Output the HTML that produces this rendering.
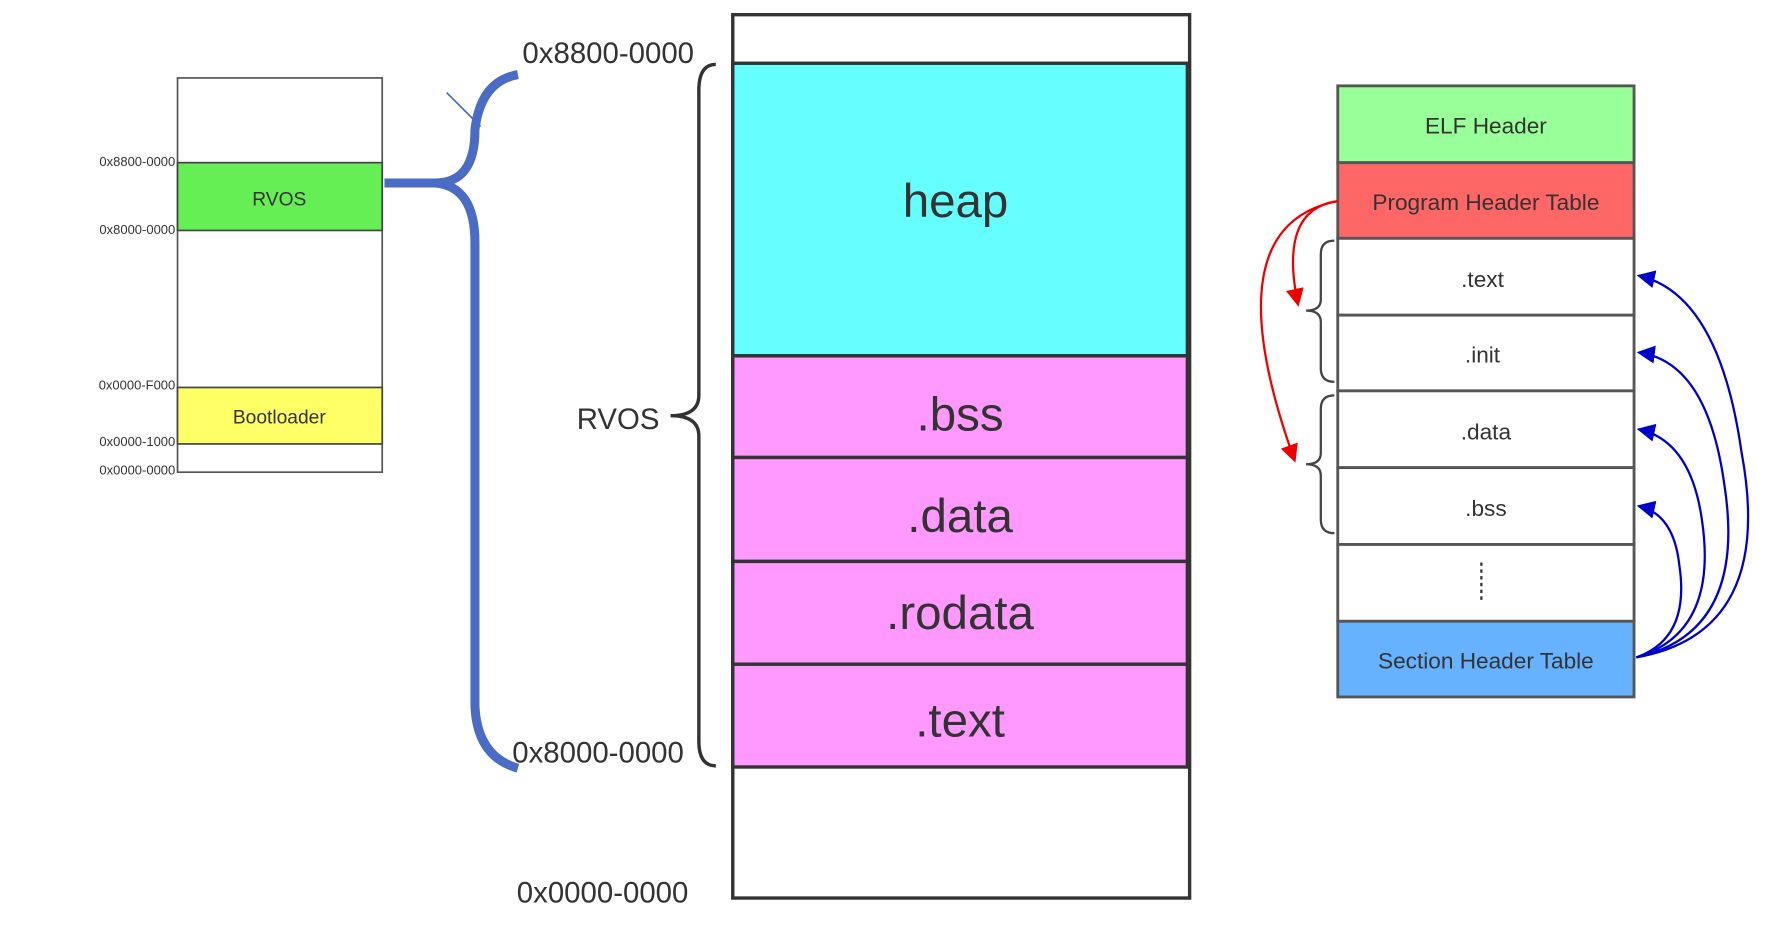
<!DOCTYPE html>
<html><head><meta charset="utf-8"><style>
html,body{margin:0;padding:0;background:#fff;}
svg{display:block;}
text{font-family:"Liberation Sans","DejaVu Sans",sans-serif;fill:#333;}
</style></head><body>
<svg width="1772" height="950" viewBox="0 0 1567 841" preserveAspectRatio="none" xmlns="http://www.w3.org/2000/svg">
<defs>
<marker id="ar" viewBox="0 0 10 10" refX="9" refY="5" markerWidth="8" markerHeight="8" orient="auto-start-reverse"><path d="M0,0 L10,5 L0,10 z" fill="#e00"/></marker>
<marker id="ab" viewBox="0 0 10 10" refX="9" refY="5" markerWidth="8" markerHeight="8" orient="auto-start-reverse"><path d="M0,0 L10,5 L0,10 z" fill="#00c"/></marker>
</defs>
<rect x="157" y="69" width="181" height="349" fill="#fff" stroke="#555" stroke-width="1.5"/>
<rect x="157" y="144" width="181" height="60" fill="#66ee55" stroke="#444" stroke-width="1.5"/>
<rect x="157" y="343" width="181" height="50" fill="#ffff66" stroke="#444" stroke-width="1.5"/>
<text x="247" y="182" font-size="17" text-anchor="middle">RVOS</text>
<text x="247" y="375" font-size="17" text-anchor="middle">Bootloader</text>
<g font-size="11.5" text-anchor="end">
<text x="155" y="147">0x8800-0000</text>
<text x="155" y="207">0x8000-0000</text>
<text x="155" y="345">0x0000-F000</text>
<text x="155" y="395">0x0000-1000</text>
<text x="155" y="420">0x0000-0000</text>
</g>
<path d="M340,162 L385,162 Q420,162 420,115 Q425,72 458,66" fill="none" stroke="#4a6cc4" stroke-width="8"/>
<path d="M385,162 Q420,165 420,215 L420,625 Q422,670 458,680" fill="none" stroke="#4a6cc4" stroke-width="8"/>
<line x1="395" y1="82" x2="425" y2="112" stroke="#4a6cc4" stroke-width="1.5"/>
<rect x="648" y="13" width="404" height="782" fill="#fff" stroke="#333" stroke-width="3"/>
<rect x="648" y="56" width="402" height="259" fill="#66ffff" stroke="#333" stroke-width="3"/>
<rect x="648" y="315" width="402" height="90" fill="#ff99ff" stroke="#333" stroke-width="3"/>
<rect x="648" y="405" width="402" height="92" fill="#ff99ff" stroke="#333" stroke-width="3"/>
<rect x="648" y="497" width="402" height="91" fill="#ff99ff" stroke="#333" stroke-width="3"/>
<rect x="648" y="588" width="402" height="91" fill="#ff99ff" stroke="#333" stroke-width="3"/>
<g font-size="42" text-anchor="middle">
<text x="845" y="192">heap</text>
<text x="849" y="381">.bss</text>
<text x="849" y="471">.data</text>
<text x="849" y="557">.rodata</text>
<text x="849" y="652">.text</text>
</g>
<g font-size="26">
<text x="462" y="56">0x8800-0000</text>
<text x="510" y="380">RVOS</text>
<text x="453" y="675">0x8000-0000</text>
<text x="457" y="799">0x0000-0000</text>
</g>
<path d="M633,57 Q618,57 618,80 L618,350 Q618,368 593,368 Q618,368 618,386 L618,656 Q618,678 633,678" fill="none" stroke="#333" stroke-width="3"/>
<g stroke="#555" stroke-width="2.5">
<rect x="1183" y="76" width="262" height="68" fill="#99ff99"/>
<rect x="1183" y="144" width="262" height="67" fill="#ff6666"/>
<rect x="1183" y="211" width="262" height="68" fill="#fff"/>
<rect x="1183" y="279" width="262" height="67" fill="#fff"/>
<rect x="1183" y="346" width="262" height="68" fill="#fff"/>
<rect x="1183" y="414" width="262" height="68" fill="#fff"/>
<rect x="1183" y="482" width="262" height="68" fill="#fff"/>
<rect x="1183" y="550" width="262" height="67" fill="#66b2ff"/>
</g>
<g font-size="20" text-anchor="middle">
<text x="1314" y="118">ELF Header</text>
<text x="1314" y="186">Program Header Table</text>
<text x="1311" y="254">.text</text>
<text x="1311" y="321">.init</text>
<text x="1314" y="389">.data</text>
<text x="1314" y="457">.bss</text>
<text x="1314" y="592">Section Header Table</text>
</g>
<line x1="1310" y1="498" x2="1310" y2="534" stroke="#333" stroke-width="2" stroke-dasharray="3,3"/>
<path d="M1180,213 Q1168,213 1168,225 L1168,265 Q1168,275 1155,275 Q1168,275 1168,285 L1168,326 Q1168,338 1180,338" fill="none" stroke="#444" stroke-width="2"/>
<path d="M1180,350 Q1168,350 1168,362 L1168,401 Q1168,411 1155,411 Q1168,411 1168,421 L1168,460 Q1168,472 1180,472" fill="none" stroke="#444" stroke-width="2"/>
<path d="M1183,178 Q1130,185 1148,270" fill="none" stroke="#e00" stroke-width="2" marker-end="url(#ar)"/>
<path d="M1183,178 Q1070,200 1145,408" fill="none" stroke="#e00" stroke-width="2" marker-end="url(#ar)"/>
<g fill="none" stroke="#00c" stroke-width="2">
<path d="M1447,582 Q1570,560 1540,400 Q1520,260 1449,244" marker-end="url(#ab)"/>
<path d="M1447,582 Q1545,560 1525,430 Q1510,320 1449,312" marker-end="url(#ab)"/>
<path d="M1447,582 Q1520,560 1505,460 Q1495,390 1449,380" marker-end="url(#ab)"/>
<path d="M1447,582 Q1495,565 1485,500 Q1480,455 1449,448" marker-end="url(#ab)"/>
</g>
</svg>
</body></html>
